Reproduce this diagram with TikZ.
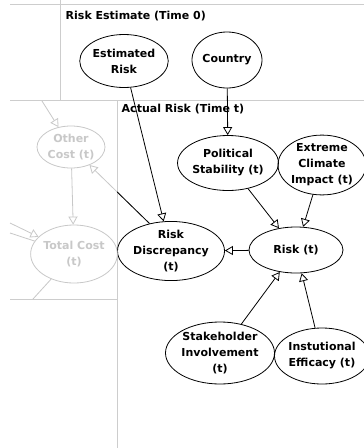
\documentclass[tikz,border=0pt]{standalone}
\usepackage{fontspec}
\setmainfont{DejaVu Sans}
\usetikzlibrary{shapes.geometric,arrows.meta}
\definecolor{faded}{RGB}{200,200,200}
\definecolor{frame}{RGB}{205,205,205}
\tikzset{
  var/.style={ellipse, draw, inner sep=0pt, align=center,
    font=\fontsize{11}{16}\selectfont\bfseries},
  fadevar/.style={var, draw=faded, text=faded},
  link/.style={-{Triangle[open,length=8pt,width=9pt,fill=white]}, line width=0.8pt},
  fadelink/.style={link, draw=faded},
}
\begin{document}
\begin{tikzpicture}[x=1pt,y=-1pt, line width=0.8pt]
\useasboundingbox[fill=white] (0,0) rectangle (364,448);
% panels
\draw[frame] (10,4)--(364,4);
\draw[frame] (60,0)--(60,100);
\draw[frame] (10,100)--(364,100);
\draw[frame] (117,100)--(117,448);
\draw[frame] (10,299)--(117,299);
\node[anchor=west, font=\fontsize{11}{13}\selectfont\bfseries] (esttitle) at (62,16) {Risk Estimate (Time 0)};
\node[anchor=west, font=\fontsize{11}{13}\selectfont\bfseries] (acttitle) at (118,109) {Actual Risk (Time t)};
% time 0
\node[var, minimum width=80pt, minimum height=53pt] (estrisk) at (124,61) {Estimated\\Risk};
\node[var, minimum width=70pt, minimum height=56pt] (country) at (227,60) {Country};
% time t
\node[var, minimum width=94pt, minimum height=55pt] (polstab) at (228,163) {Political\\Stability (t)};
\node[var, minimum width=88pt, minimum height=55pt] (climate) at (322,165) {Extreme\\Climate\\Impact (t)};
\node[var, minimum width=88pt, minimum height=53pt] (riskdisc) at (171,251) {Risk\\Discrepancy\\(t)};
\node[var, minimum width=94pt, minimum height=46pt] (risk) at (296,250) {Risk (t)};
\node[var, minimum width=102pt, minimum height=62pt] (stake) at (220,353) {Stakeholder\\Involvement\\(t)};
\node[var, minimum width=88pt, minimum height=56pt] (instit) at (322,356) {Instutional\\Efficacy (t)};
% faded cost part
\node[fadevar, minimum width=68pt, minimum height=42pt] (othercost) at (71,147) {Other\\Cost (t)};
\node[fadevar, minimum width=76pt, minimum height=58pt] (totalcost) at (74,254) {Total Cost\\(t)};
\coordinate (inother) at (42,101);
\coordinate (intotal) at (10,223);
\coordinate (intotalb) at (10,233);
\coordinate (outtotal) at (33,299);
\draw[fadelink] (inother)--(othercost);
\draw[fadelink] (othercost)--(totalcost);
\draw[faded] (intotalb)--(totalcost);
\draw[fadelink] (intotal)--(totalcost);
\draw[faded] (totalcost)--(outtotal);
\draw[fadelink] (riskdisc.128)--(othercost);
\begin{scope}
  \clip (117,100) rectangle (364,448);
  \draw (riskdisc.128)--(othercost);
\end{scope}
% links
\draw[link] (estrisk)--(riskdisc);
\draw[link] (country)--(polstab);
\draw[link] (polstab)--(risk);
\draw[link] (climate)--(risk);
\draw[link] (risk)--(riskdisc);
\draw[link] (stake)--(risk);
\draw[link] (instit)--(risk);
\end{tikzpicture}
\end{document}
